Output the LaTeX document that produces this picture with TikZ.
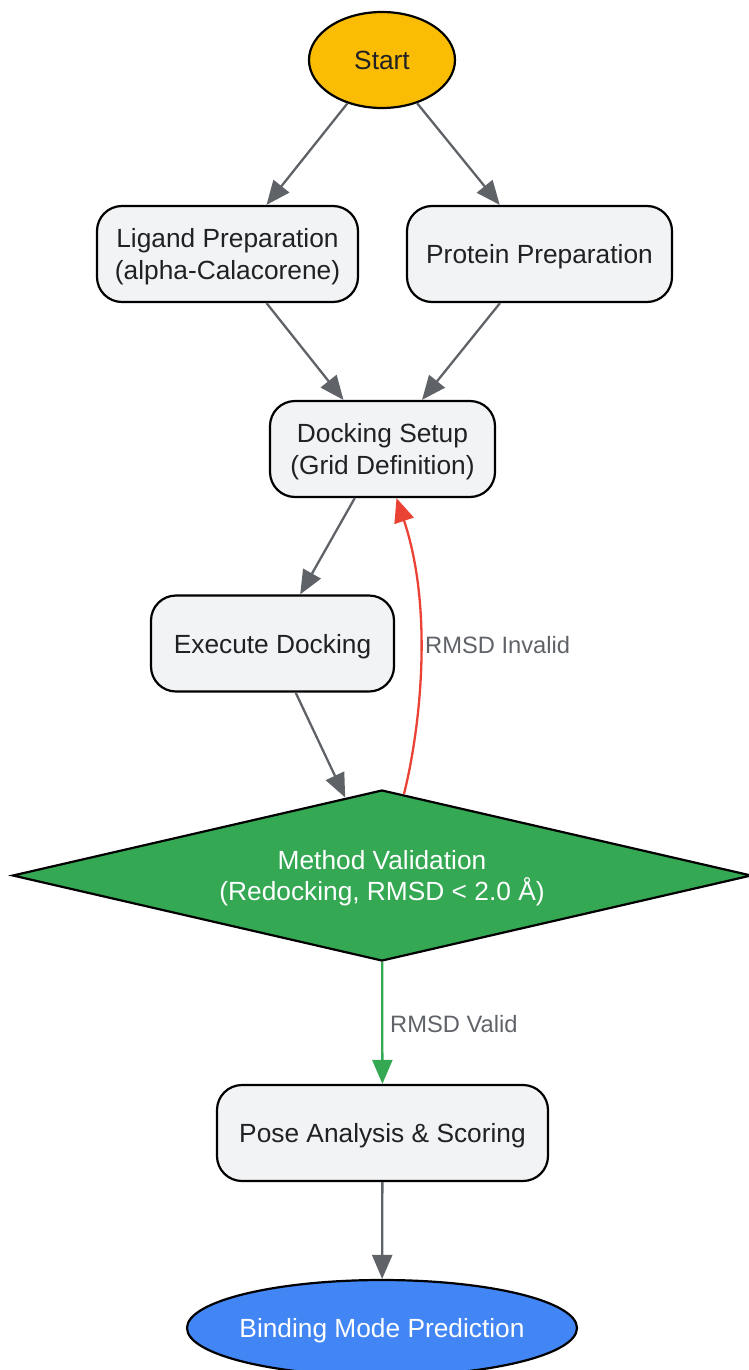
\documentclass[tikz,border=0pt]{standalone}
\usepackage{fontspec}
\setmainfont{Liberation Sans}
\usetikzlibrary{shapes.geometric,arrows.meta}
\definecolor{startc}{HTML}{FBBC04}
\definecolor{boxc}{HTML}{F1F3F4}
\definecolor{greenc}{HTML}{34A853}
\definecolor{bluec}{HTML}{4285F4}
\definecolor{redc}{HTML}{EA4335}
\definecolor{grayc}{HTML}{5F6368}
\definecolor{txtc}{HTML}{202124}
\tikzset{
  nodefont/.style={font=\fontsize{26.3}{31.5}\selectfont, align=center, text depth=0pt},
  stepbox/.style={nodefont, draw=black, line width=2.2pt, fill=boxc, text=txtc, rounded corners=25pt, minimum height=96pt, inner sep=0pt},
  termnode/.style={nodefont, draw=black, line width=2.2pt, ellipse, minimum height=96pt, inner sep=0pt},
  decnode/.style={nodefont, draw=black, line width=2.2pt, diamond, fill=greenc, text=white, minimum width=739pt, minimum height=171pt, shape aspect=4.3, inner sep=0pt},
  conn/.style={draw=grayc, line width=2.3pt, -{Triangle[length=24pt,width=20pt]}},
  elabel/.style={font=\fontsize{23.7}{28}\selectfont, text=grayc, inner sep=0pt}
}
\begin{document}
\begin{tikzpicture}[x=1pt,y=-1pt]
\useasboundingbox (0,0) rectangle (749,1370);
\node[termnode, fill=startc, text=txtc, minimum width=146pt] (start) at (382,60) {Start};
\node[stepbox, minimum width=261pt] (lig) at (227.5,254) {Ligand Preparation\\(alpha-Calacorene)};
\node[stepbox, minimum width=265pt] (prot) at (539.5,254) {Protein Preparation};
\node[stepbox, minimum width=225pt] (dock) at (382.5,449) {Docking Setup\\(Grid Definition)};
\node[stepbox, minimum width=243pt] (exec) at (272.5,643.5) {Execute Docking};
\node[decnode] (val) at (382,875.5) {Method Validation\\(Redocking, RMSD < 2.0 Å)};
\node[stepbox, minimum width=331pt] (pose) at (382.5,1133) {Pose Analysis \& Scoring};
\node[termnode, fill=bluec, text=white, minimum width=390pt, inner xsep=-10pt] (bind) at (382,1328) {Binding Mode Prediction};

\draw[conn] (start) -- (lig);
\draw[conn] (start) -- (prot);
\draw[conn] (lig) -- (dock);
\draw[conn] (prot) -- (dock);
\draw[conn] (dock) -- (exec);
\draw[conn] (exec) -- (val);
\draw[conn, draw=redc] ([xshift=22pt,yshift=-5pt]val.north) .. controls (420,730) and (434,610) .. ([xshift=14pt]dock.south);
\node[elabel, anchor=west] (linv) at (425,645) {RMSD Invalid};
\draw[conn, draw=greenc] (val) -- (pose);
\node[elabel, anchor=west] (lval) at (390,1024) {RMSD Valid};
\draw[conn] (pose) -- (bind);
\end{tikzpicture}
\end{document}
